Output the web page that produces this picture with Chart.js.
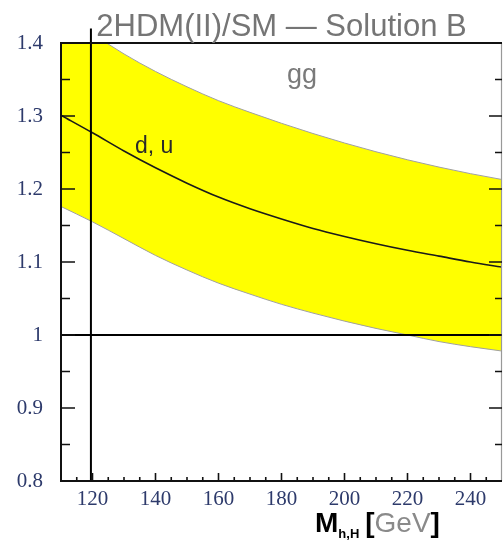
<!DOCTYPE html>
<html>
<head>
<meta charset="utf-8">
<script src="https://cdn.jsdelivr.net/npm/chart.js@4/dist/chart.umd.min.js"></script>
<style>
  html, body { margin: 0; padding: 0; background: #ffffff; }
  #wrap { width: 503px; height: 540px; }
</style>
</head>
<body>
<div id="wrap"><canvas id="c" width="503" height="540"></canvas></div>
<script>
// ---- data ----
const massGeV      = [110, 120, 130, 140, 150, 160, 170, 180, 190, 200, 210, 220, 230, 240, 250];
const centralRatio = [1.301, 1.277, 1.252, 1.229, 1.208, 1.189, 1.173, 1.159, 1.146, 1.135, 1.125, 1.116, 1.108, 1.100, 1.093];
const upperRatio   = [1.445, 1.413, 1.385, 1.361, 1.340, 1.321, 1.305, 1.290, 1.276, 1.263, 1.251, 1.240, 1.230, 1.221, 1.213];
const lowerRatio   = [1.176, 1.155, 1.132, 1.109, 1.089, 1.071, 1.056, 1.042, 1.030, 1.019, 1.009, 1.000, 0.991, 0.984, 0.978];
const smReference  = [1, 1];           // ratio = 1 line
const smRefMass    = [110, 250];
const markerMass   = [119.5, 119.5];   // vertical marker line
const markerRatio  = [0.8, 1.42];
const xTickLabels  = [120, 140, 160, 180, 200, 220, 240];
const yTickLabels  = [0.8, 0.9, 1.0, 1.1, 1.2, 1.3, 1.4];
const titleText    = "2HDM(II)/SM \u2014 Solution B";
const processLabel = "gg";
const curveLabel   = "d, u";

const pts = (xs, ys) => xs.map((x, i) => ({ x: x, y: ys[i] }));

const decor = {
  id: 'decor',
  afterDraw(chart) {
    const ctx = chart.ctx, a = chart.chartArea;
    const xs = chart.scales.x, ys = chart.scales.y;
    ctx.save();
    // frame
    ctx.lineCap = 'butt';
    ctx.strokeStyle = '#999999'; ctx.lineWidth = 1.2;
    ctx.beginPath(); ctx.moveTo(a.right - 0.5, a.top); ctx.lineTo(a.right - 0.5, a.bottom); ctx.stroke();
    ctx.strokeStyle = '#111111'; ctx.lineWidth = 2;
    ctx.beginPath();
    ctx.moveTo(a.left, a.top); ctx.lineTo(a.right, a.top);
    ctx.moveTo(a.left, a.top - 1); ctx.lineTo(a.left, a.bottom);
    ctx.lineTo(a.right, a.bottom);
    ctx.stroke();
    // inward ticks y (left & right)
    ctx.lineWidth = 1.6;
    for (let k = 1; k < 12; k++) {
      const v = 0.8 + k * 0.05;
      const p = ys.getPixelForValue(v);
      const major = k % 2 === 0;
      ctx.beginPath();
      ctx.moveTo(a.left, p); ctx.lineTo(a.left + (major ? 14 : 9), p);
      ctx.moveTo(a.right, p); ctx.lineTo(a.right - (major ? 13 : 7), p);
      ctx.stroke();
    }
    // inward ticks x (bottom)
    for (let v = 115; v < 250; v += 5) {
      const p = xs.getPixelForValue(v);
      const major = v % 20 === 0;
      ctx.beginPath();
      ctx.moveTo(p, a.bottom); ctx.lineTo(p, a.bottom - (major ? 8 : 4));
      ctx.stroke();
    }
    // title
    ctx.fillStyle = '#757575';
    ctx.font = '31px "Liberation Sans", Arial, sans-serif';
    ctx.textAlign = 'center'; ctx.textBaseline = 'alphabetic';
    ctx.fillText(titleText, (a.left + a.right) / 2, 36);
    // gg label
    ctx.fillStyle = '#7a7a7a';
    ctx.font = '27px "Liberation Sans", Arial, sans-serif';
    ctx.fillText(processLabel, xs.getPixelForValue(186.5), ys.getPixelForValue(1.345));
    // d, u label
    ctx.fillStyle = '#2a2a2a';
    ctx.font = '23px "Liberation Sans", Arial, sans-serif';
    ctx.textAlign = 'left';
    ctx.fillText(curveLabel, xs.getPixelForValue(133.5), ys.getPixelForValue(1.249));
    // x axis title: M_{h,H} [GeV]
    let x0 = 315, base = 532;
    ctx.fillStyle = '#000000';
    ctx.font = 'bold 28px "Liberation Sans", Arial, sans-serif';
    ctx.fillText('M', x0, base); x0 += ctx.measureText('M').width;
    ctx.font = 'bold 13px "Liberation Sans", Arial, sans-serif';
    ctx.fillText('h,H', x0, base + 6); x0 += ctx.measureText('h,H').width + 6;
    ctx.font = 'bold 28px "Liberation Sans", Arial, sans-serif';
    ctx.fillText('[', x0, base); x0 += ctx.measureText('[').width;
    ctx.fillStyle = '#8a8a8a';
    ctx.font = '28px "Liberation Sans", Arial, sans-serif';
    ctx.fillText('GeV', x0, base); x0 += ctx.measureText('GeV').width;
    ctx.fillStyle = '#000000';
    ctx.font = 'bold 28px "Liberation Sans", Arial, sans-serif';
    ctx.fillText(']', x0, base);
    ctx.restore();
  }
};

new Chart(document.getElementById('c'), {
  type: 'line',
  data: {
    datasets: [
      { data: pts(massGeV, upperRatio), borderColor: '#a0a0a0', borderWidth: 1, backgroundColor: '#ffff00',
        fill: '+1', pointRadius: 0, cubicInterpolationMode: 'monotone', order: 5 },
      { data: pts(massGeV, lowerRatio), borderColor: '#a0a0a0', borderWidth: 1, backgroundColor: '#ffff00',
        fill: false, pointRadius: 0, cubicInterpolationMode: 'monotone', order: 4 },
      { data: pts(massGeV, centralRatio), borderColor: '#1a1a1a', borderWidth: 1.6, fill: false,
        pointRadius: 0, cubicInterpolationMode: 'monotone', order: 3 },
      { data: pts(smRefMass, smReference), borderColor: '#000000', borderWidth: 2, fill: false,
        pointRadius: 0, order: 2 },
      { data: pts(markerMass, markerRatio), borderColor: '#000000', borderWidth: 2, fill: false,
        pointRadius: 0, clip: false, order: 1 }
    ]
  },
  options: {
    responsive: false,
    animation: false,
    events: [],
    layout: { padding: { top: 43, right: 1, left: 0, bottom: 0 } },
    plugins: { legend: { display: false }, tooltip: { enabled: false }, title: { display: false } },
    scales: {
      x: {
        type: 'linear', min: 110, max: 250,
        afterBuildTicks: s => { s.ticks = xTickLabels.map(v => ({ value: v })); },
        afterFit: s => { s.height = 59; },
        grid: { display: false, drawTicks: false },
        border: { display: false },
        ticks: { padding: 6, color: '#2d3a6b', maxRotation: 0, autoSkip: false,
                 font: { family: '"Liberation Serif", "Times New Roman", serif', size: 21 } }
      },
      y: {
        type: 'linear', min: 0.8, max: 1.4,
        afterBuildTicks: s => { s.ticks = yTickLabels.map(v => ({ value: v })); },
        afterFit: s => { s.width = 61; },
        grid: { display: false, drawTicks: false },
        border: { display: false },
        ticks: { padding: 18, color: '#2d3a6b', autoSkip: false,
                 callback: v => String(Number(Number(v).toFixed(2))),
                 font: { family: '"Liberation Serif", "Times New Roman", serif', size: 21 } }
      }
    }
  },
  plugins: [decor]
});
</script>
</body>
</html>
